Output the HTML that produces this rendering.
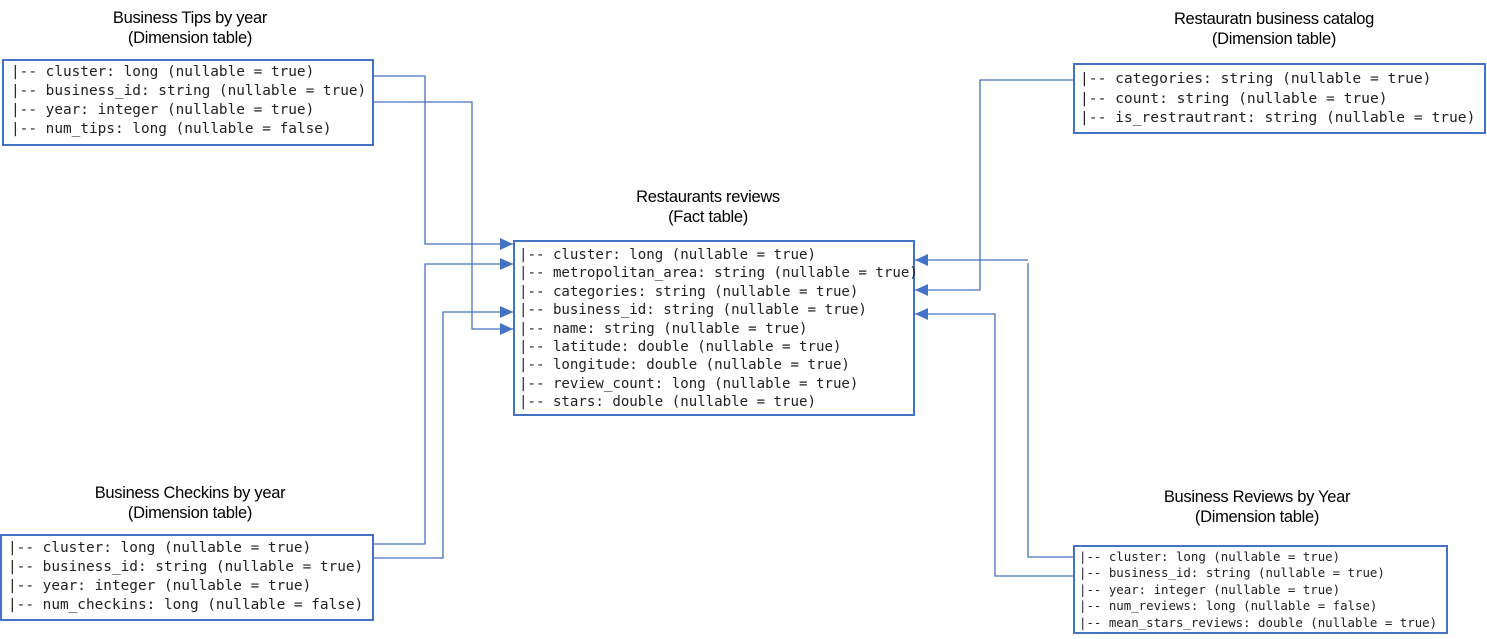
<!DOCTYPE html>
<html><head><meta charset="utf-8"><style>
html,body{margin:0;padding:0;background:#fff;}
body{width:1487px;height:639px;position:relative;overflow:hidden;}
.t{position:absolute;font-family:"Liberation Sans",Arial,sans-serif;font-size:16.5px;color:#000;text-align:center;line-height:20px;white-space:nowrap;transform:translateX(-50%);letter-spacing:-0.3px;}
.b{position:absolute;border:2px solid #4472C4;box-sizing:border-box;background:#fff;font-family:"DejaVu Sans Mono",monospace;color:#222;white-space:pre;}
svg{position:absolute;left:0;top:0;}
</style></head><body>
<svg width="1487" height="639">
<defs><marker id="a" markerWidth="13" markerHeight="12" refX="13" refY="6" orient="auto" markerUnits="userSpaceOnUse"><path d="M0,0L13,6L0,12z" fill="#4472C4"/></marker></defs>
<g fill="none" stroke="#4472C4" stroke-width="1.3">
<polyline points="374,76 425,76 425,244 513,244" marker-end="url(#a)"/>
<polyline points="374,102 472,102 472,329 513,329" marker-end="url(#a)"/>
<polyline points="373,544 425,544 425,264 513,264" marker-end="url(#a)"/>
<polyline points="373,558 443,558 443,312 513,312" marker-end="url(#a)"/>
<polyline points="1073,80 980,80 980,290 915,290" marker-end="url(#a)"/>
<polyline points="1028,260 915,260" marker-end="url(#a)"/>
<polyline points="1028,263 1028,557 1073,557"/>
<polyline points="1073,576 995,576 995,314 915,314" marker-end="url(#a)"/>
</g>
</svg>
<div class="t" style="left:190px;top:8px">Business Tips by year<br>(Dimension table)</div>
<div class="b" style="left:2px;top:59px;width:372px;height:87px;font-size:14.4px;line-height:19px;padding:2px 0 0 7px">|-- cluster: long (nullable = true)
|-- business_id: string (nullable = true)
|-- year: integer (nullable = true)
|-- num_tips: long (nullable = false)</div>
<div class="t" style="left:708px;top:187px">Restaurants reviews<br>(Fact table)</div>
<div class="b" style="left:513px;top:240px;width:402px;height:176px;font-size:14.1px;line-height:18.4px;padding:4px 0 0 4px">|-- cluster: long (nullable = true)
|-- metropolitan_area: string (nullable = true)
|-- categories: string (nullable = true)
|-- business_id: string (nullable = true)
|-- name: string (nullable = true)
|-- latitude: double (nullable = true)
|-- longitude: double (nullable = true)
|-- review_count: long (nullable = true)
|-- stars: double (nullable = true)</div>
<div class="t" style="left:190px;top:483px">Business Checkins by year<br>(Dimension table)</div>
<div class="b" style="left:0px;top:534px;width:374px;height:87px;font-size:14.4px;line-height:19px;padding:3px 0 0 6px">|-- cluster: long (nullable = true)
|-- business_id: string (nullable = true)
|-- year: integer (nullable = true)
|-- num_checkins: long (nullable = false)</div>
<div class="t" style="left:1274px;top:9px">Restauratn business catalog<br>(Dimension table)</div>
<div class="b" style="left:1073px;top:63px;width:413px;height:71px;font-size:14.6px;line-height:19.5px;padding:4px 0 0 5px">|-- categories: string (nullable = true)
|-- count: string (nullable = true)
|-- is_restrautrant: string (nullable = true)</div>
<div class="t" style="left:1257px;top:487px">Business Reviews by Year<br>(Dimension table)</div>
<div class="b" style="left:1073px;top:545px;width:375px;height:89px;font-size:12.4px;line-height:16.4px;padding:2px 0 0 4px">|-- cluster: long (nullable = true)
|-- business_id: string (nullable = true)
|-- year: integer (nullable = true)
|-- num_reviews: long (nullable = false)
|-- mean_stars_reviews: double (nullable = true)</div>
</body></html>
